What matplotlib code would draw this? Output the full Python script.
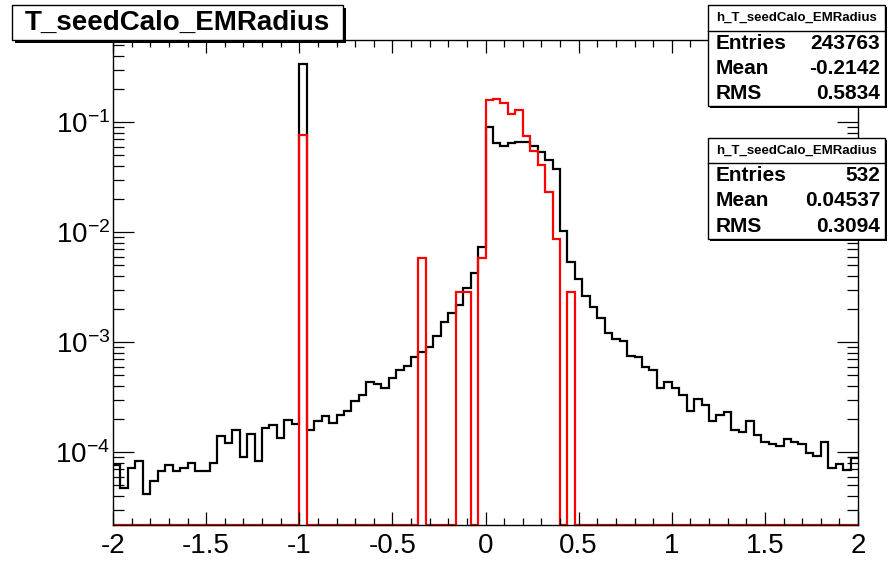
import numpy as np
import matplotlib.pyplot as plt
from matplotlib.patches import Rectangle
from matplotlib.ticker import (LogLocator, MultipleLocator, LogFormatterMathtext,
                               NullFormatter)

plt.rcParams["font.family"] = ["Liberation Sans", "DejaVu Sans"]
plt.rcParams["axes.unicode_minus"] = False
plt.rcParams["mathtext.default"] = "regular"

# 100 bins from -2 to 2 (normalised histograms)
bin_edges = np.linspace(-2, 2, 101)

all_seeds = [
    7.7e-5, 4.7e-5, 7.2e-5, 8.4e-5, 4.2e-5, 5.5e-5, 6.8e-5, 7.6e-5, 6.8e-5, 7.2e-5,
    8.0e-5, 6.8e-5, 6.8e-5, 8.0e-5, 1.41e-4, 1.21e-4, 1.6e-4, 9.1e-5, 1.47e-4, 8.4e-5,
    1.65e-4, 1.77e-4, 1.34e-4, 1.97e-4, 1.8e-4, 0.34, 1.6e-4, 1.93e-4, 2.14e-4, 1.86e-4,
    2.18e-4, 2.37e-4, 2.94e-4, 3.3e-4, 4.39e-4, 4.18e-4, 3.87e-4, 4.7e-4, 5.6e-4, 6.1e-4,
    7.4e-4, 8.1e-4, 9.1e-4, 1.15e-3, 1.52e-3, 1.84e-3, 2.18e-3, 3.1e-3, 4.3e-3, 7.3e-3,
    0.090, 0.0644, 0.061, 0.0644, 0.0667, 0.0667, 0.061, 0.0538, 0.0454, 0.0376,
    0.0103, 5.4e-3, 3.76e-3, 2.65e-3, 2.11e-3, 1.65e-3, 1.21e-3, 1.06e-3, 1.03e-3, 7.5e-4,
    7.4e-4, 6.0e-4, 5.6e-4, 3.82e-4, 4.39e-4, 3.82e-4, 3.32e-4, 2.39e-4, 3.05e-4, 2.69e-4,
    1.94e-4, 2.18e-4, 2.34e-4, 1.6e-4, 1.52e-4, 1.94e-4, 1.44e-4, 1.25e-4, 1.19e-4, 1.14e-4,
    1.32e-4, 1.24e-4, 1.2e-4, 9.8e-5, 9.25e-5, 1.25e-4, 7.2e-5, 7.9e-5, 6.9e-5, 8.9e-5,
]

matched = [
    0, 0, 0, 0, 0, 0, 0, 0, 0, 0,
    0, 0, 0, 0, 0, 0, 0, 0, 0, 0,
    0, 0, 0, 0, 0, 0.076, 0, 0, 0, 0,
    0, 0, 0, 0, 0, 0, 0, 0, 0, 0,
    0, 5.8e-3, 0, 0, 0, 0, 2.85e-3, 2.85e-3, 0, 5.8e-3,
    0.16, 0.163, 0.149, 0.118, 0.129, 0.075, 0.0552, 0.041, 0.0231, 8.7e-3,
    0, 2.85e-3, 0, 0, 0, 0, 0, 0, 0, 0,
    0, 0, 0, 0, 0, 0, 0, 0, 0, 0,
    0, 0, 0, 0, 0, 0, 0, 0, 0, 0,
    0, 0, 0, 0, 0, 0, 0, 0, 0, 0,
]

title = "T_seedCalo_EMRadius"
hist_name = "h_T_seedCalo_EMRadius"
stats_all = [("Entries", "243763"), ("Mean", "-0.2142"), ("RMS", "0.5834")]
stats_matched = [("Entries", "532"), ("Mean", "0.04537"), ("RMS", "0.3094")]

W, H = 894, 561
fig = plt.figure(figsize=(W / 100, H / 100), dpi=100)
ax = fig.add_axes([113 / W, 1 - 525 / H, (858 - 113) / W, (525 - 40) / H])

y_low, y_high = 2.18e-5, 0.56
ax.set_yscale("log")
ax.set_xlim(-2, 2)
ax.set_ylim(y_low, y_high)

ax.stairs(all_seeds, bin_edges, color="black", lw=1.6, baseline=None)
red = np.array(matched, dtype=float)
red = np.where(red > 0, red, y_low)
ax.stairs(red, bin_edges, color="red", lw=1.6, baseline=y_low, clip_on=False)

# ROOT style axes
ax.xaxis.set_major_locator(MultipleLocator(0.5))
ax.xaxis.set_minor_locator(MultipleLocator(0.1))
ax.yaxis.set_major_locator(LogLocator(base=10))
ax.yaxis.set_minor_locator(LogLocator(base=10, subs=np.arange(2, 10)))
ax.yaxis.set_major_formatter(LogFormatterMathtext())
ax.yaxis.set_minor_formatter(NullFormatter())
ax.xaxis.set_major_formatter(plt.FuncFormatter(lambda v, p: f"{v:g}"))

ax.tick_params(axis="both", which="both", direction="in", top=True, right=True,
               color="black", width=0.9)
ax.tick_params(axis="x", which="major", length=9.5, labelsize=20, pad=6)
ax.tick_params(axis="x", which="minor", length=5)
ax.tick_params(axis="y", which="major", length=15, labelsize=20, pad=2)
ax.tick_params(axis="y", which="minor", length=8)
for s in ax.spines.values():
    s.set_linewidth(1)
    s.set_color("black")


def box(x0, y0, x1, y1, shadow=3):
    fig.add_artist(Rectangle((x0 / W + shadow / W, 1 - (y1 + shadow) / H),
                             (x1 - x0) / W, (y1 - y0) / H,
                             transform=fig.transFigure, fc="black", ec="black", lw=0))
    fig.add_artist(Rectangle((x0 / W, 1 - y1 / H), (x1 - x0) / W, (y1 - y0) / H,
                             transform=fig.transFigure, fc="white", ec="black", lw=1))


# title box
box(12, 5, 343, 40)
fig.text(177.5 / W, 1 - 22.5 / H, title, ha="center", va="center",
         fontsize=20, fontweight="bold")


def stats_box(y0, y1, ysep, rows):
    box(708, y0, 885, y1, shadow=2)
    fig.add_artist(plt.Line2D([708 / W, 885 / W], [1 - ysep / H, 1 - ysep / H],
                              transform=fig.transFigure, color="black", lw=1))
    fig.text(796.5 / W, 1 - (y0 + ysep) / 2 / H, hist_name, ha="center",
             va="center", fontsize=9.5, fontweight="bold")
    step = (y1 - ysep) / len(rows)
    for i, (lab, val) in enumerate(rows):
        yc = ysep + step * (i + 0.5)
        fig.text(716 / W, 1 - yc / H, lab, ha="left", va="center",
                 fontsize=15, fontweight="bold")
        fig.text(880 / W, 1 - yc / H, val, ha="right", va="center",
                 fontsize=15, fontweight="bold")


stats_box(5, 106, 31, stats_all)
stats_box(138, 239, 163, stats_matched)

fig.savefig("out.png", dpi=100)
